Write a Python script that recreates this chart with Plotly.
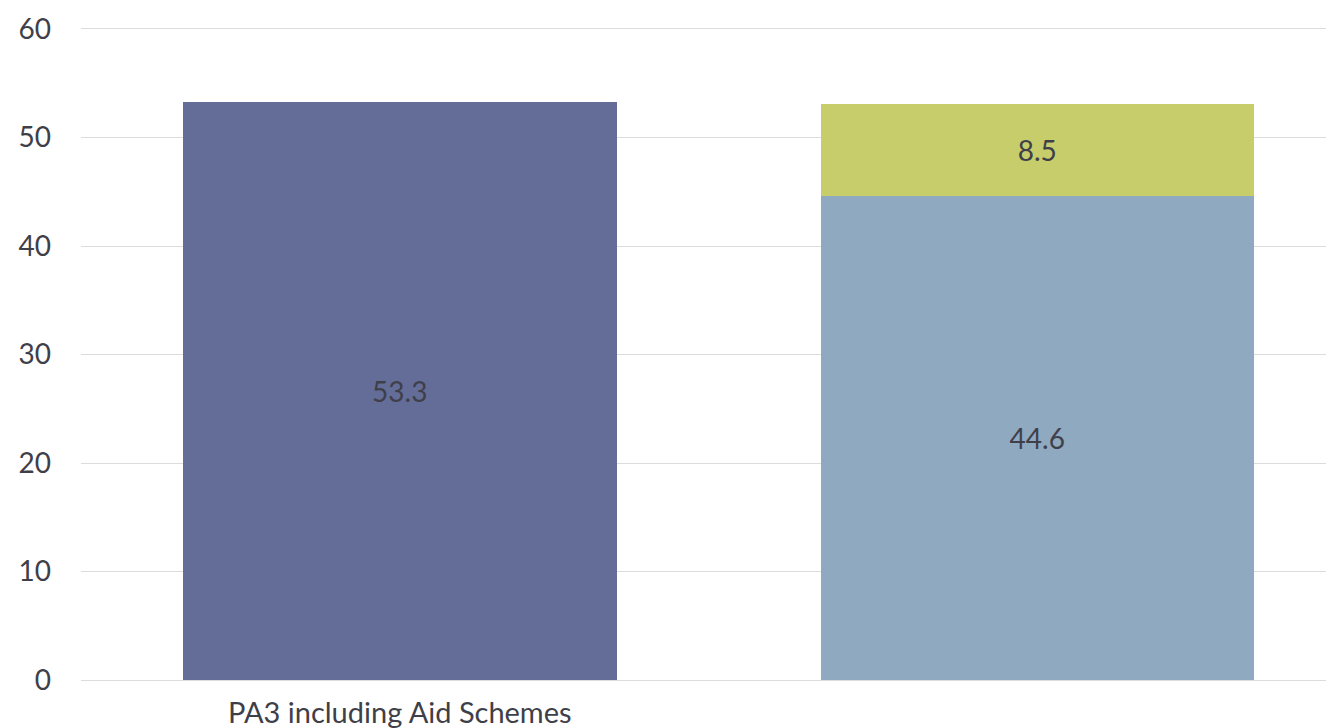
import plotly.graph_objects as go

categories = ["PA3 including Aid Schemes", " "]
series_total = [53.3, None]
series_lower = [None, 44.6]
series_upper = [None, 8.5]
y_ticks = [0, 10, 20, 30, 40, 50, 60]

FONT = "Lato, 'Open Sans', sans-serif"
TEXT_COLOR = "#3f3f4a"
GRID = "#dcdcdc"

fig = go.Figure()
for vals, color in [(series_total, "#646d98"), (series_lower, "#8fa9c1"), (series_upper, "#c6cd6a")]:
    fig.add_trace(go.Bar(
        x=categories, y=vals, width=0.68,
        marker=dict(color=color, line=dict(width=0)),
        text=[("%.1f" % v) if v is not None else "" for v in vals],
        textposition="inside", insidetextanchor="middle",
        textfont=dict(family=FONT, size=28, color=TEXT_COLOR),
        showlegend=False,
    ))

fig.update_layout(
    barmode="stack",
    width=1334, height=728,
    margin=dict(l=73, r=0, t=21, b=56),
    paper_bgcolor="white", plot_bgcolor="white",
    font=dict(family=FONT, size=28, color=TEXT_COLOR),
    xaxis=dict(range=[-0.5, 1.478], showgrid=False, showline=True, linecolor=GRID,
               linewidth=1, mirror=True, ticks="", ticklabelstandoff=7,
               tickfont=dict(size=29, color=TEXT_COLOR)),
    yaxis=dict(range=[0, 60], tickvals=y_ticks, showgrid=True, gridcolor=GRID,
               gridwidth=1, zeroline=False, showline=False, ticks="",
               ticklabelstandoff=29, tickfont=dict(size=28, color=TEXT_COLOR)),
)

fig.write_html("out.html")
